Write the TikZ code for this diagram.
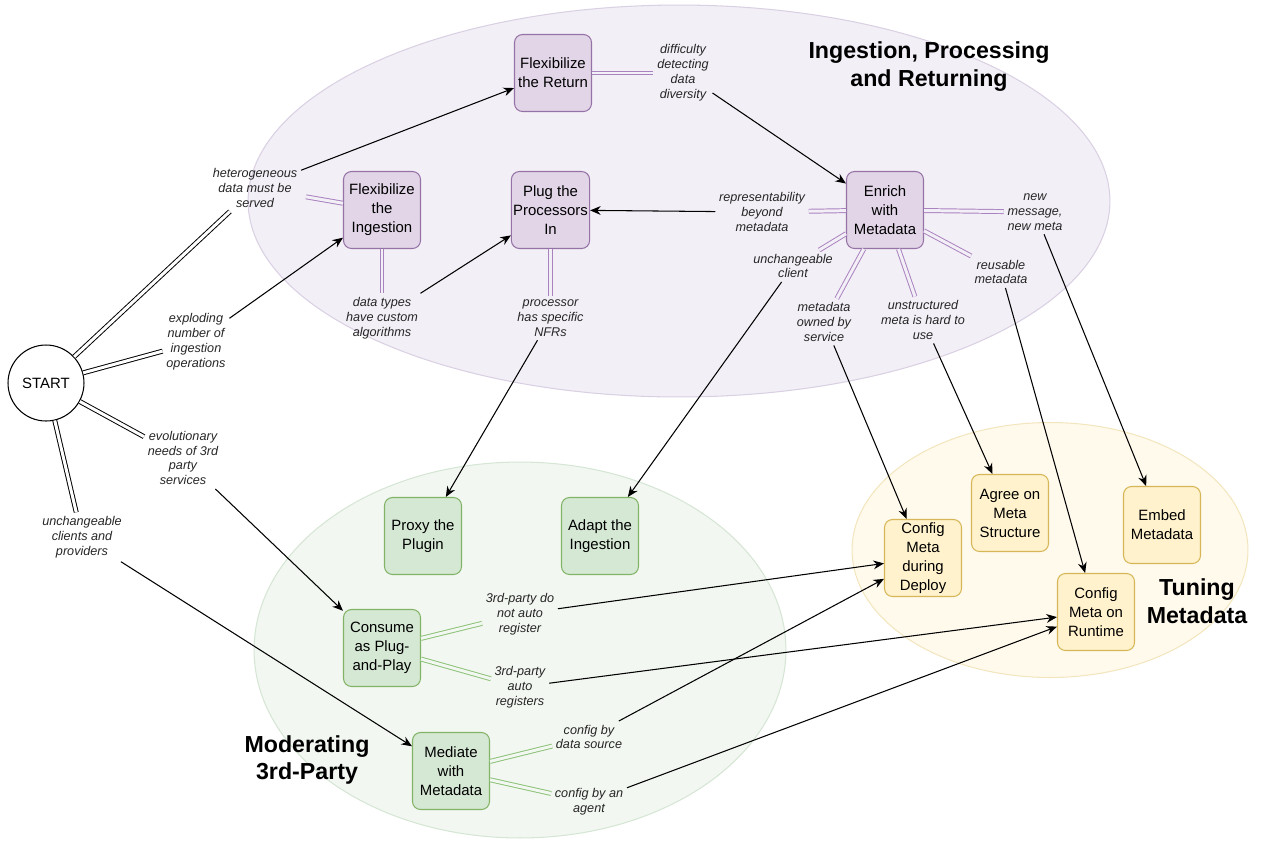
\documentclass[tikz,border=0pt]{standalone}
\usepackage{fontspec}
\setmainfont{Liberation Sans}
\usepackage{tikz}
\usetikzlibrary{arrows.meta}
\definecolor{purpfill}{HTML}{E1D5E7}
\definecolor{purpline}{HTML}{9673A6}
\definecolor{purpdbl}{HTML}{A983C0}
\definecolor{purpzone}{HTML}{F3EFF6}
\definecolor{purpzoneline}{HTML}{DAD0E3}
\definecolor{grnfill}{HTML}{D5E8D4}
\definecolor{grnline}{HTML}{82B366}
\definecolor{grndbl}{HTML}{8CC277}
\definecolor{grnzone}{HTML}{F2F7F1}
\definecolor{grnzoneline}{HTML}{D6E6D4}
\definecolor{ylwfill}{HTML}{FFF2CC}
\definecolor{ylwline}{HTML}{D6B656}
\definecolor{ylwzone}{HTML}{FFFAEC}
\definecolor{ylwzoneline}{HTML}{F3E6BF}
\tikzset{
  font={\fontsize{8.5pt}{10.8pt}\selectfont},
  box/.style={rounded corners=0.16cm, minimum width=1.54cm, minimum height=1.54cm,
    align=center, inner sep=1pt, line width=0.6pt},
  pbox/.style={box, draw=purpline, fill=purpfill},
  gbox/.style={box, draw=grnline, fill=grnfill},
  ybox/.style={box, draw=ylwline, fill=ylwfill},
  why/.style={align=center, inner sep=2pt, text=black!85,
    font={\fontsize{7.2pt}{8.5pt}\selectfont\itshape}},
  zonetitle/.style={align=center, font={\fontsize{13.2pt}{15.9pt}\selectfont\bfseries}},
  dbl/.style={line width=0.55pt, double distance=1.7pt},
  cause/.style={-{Stealth[length=6pt,width=5pt]}, line width=0.6pt}}

\begin{document}
\begin{tikzpicture}[x=0.02cm, y=-0.02cm]
\useasboundingbox (0,0) rectangle (1261,849);
\draw [purpzoneline, fill=purpzone, line width=0.6pt] (679,201) ellipse [x radius=8.62cm, y radius=3.92cm];
\draw [grnzoneline, fill=grnzone, line width=0.6pt] (520,650) ellipse [x radius=5.32cm, y radius=3.76cm];
\draw [ylwzoneline, fill=ylwzone, line width=0.6pt] (1050,550) ellipse [x radius=3.96cm, y radius=2.55cm];

\node [zonetitle] (ttlproc) at (929,67) {Ingestion, Processing\\and Returning};
\node [zonetitle] (ttlthird) at (307,760) {Moderating\\3rd-Party};
\node [zonetitle] (ttltune) at (1197,601) {Tuning\\Metadata};

\node [draw, circle, minimum size=1.52cm, line width=0.6pt, inner sep=0pt] (start) at (46,383) {START};

\node [pbox] (ret) at (553,73) {Flexibilize\\the Return};
\node [pbox] (ing) at (382,210) {Flexibilize\\the\\Ingestion};
\node [pbox] (plug) at (550.5,210) {Plug the\\Processors\\In};
\node [pbox] (enrich) at (885,210) {Enrich\\with\\Metadata};
\node [gbox] (proxy) at (423,536) {Proxy the\\Plugin};
\node [gbox] (adapt) at (600,536) {Adapt the\\Ingestion};
\node [gbox] (consume) at (382,648) {Consume\\as Plug-\\and-Play};
\node [gbox] (mediate) at (451,771) {Mediate\\with\\Metadata};
\node [ybox] (cdeploy) at (923,558) {Config\\Meta\\during\\Deploy};
\node [ybox] (agree) at (1010,513) {Agree on\\Meta\\Structure};
\node [ybox] (embed) at (1162,525) {Embed\\Metadata};
\node [ybox] (cruntime) at (1096,612) {Config\\Meta on\\Runtime};

\node [why] (hetero) at (255,188) {heterogeneous\\data must be\\served};
\node [why] (explode) at (196,342) {exploding\\number of\\ingestion\\operations};
\node [why] (evol) at (183,458) {evolutionary\\needs of 3rd\\party\\services};
\node [why] (uclients) at (82,537) {unchangeable\\clients and\\providers};
\node [why] (diff) at (683,73) {difficulty\\detecting\\data\\diversity};
\node [why] (dtypes) at (382,318) {data types\\have custom\\algorithms};
\node [why] (nfr) at (550.5,318) {processor\\has specific\\NFRs};
\node [why] (repr) at (762,212) {representability\\beyond\\metadata};
\node [why] (newmsg) at (1035,212) {new\\message,\\new meta};
\node [why] (uclient) at (793,266) {unchangeable\\client};
\node [why] (reuse) at (1001,272) {reusable\\metadata};
\node [why] (owned) at (824,322) {metadata\\owned by\\service};
\node [why] (unstr) at (923,320) {unstructured\\meta is hard to\\use};
\node [why] (notauto) at (520,614) {3rd-party do\\not auto\\register};
\node [why] (auto) at (520,687) {3rd-party\\auto\\registers};
\node [why] (dsource) at (589,737) {config by\\data source};
\node [why] (agent) at (589,802) {config by an\\agent};

\draw [dbl, draw=black, double=white] (start) -- (hetero);
\draw [dbl, draw=black, double=white] (start) -- (explode);
\draw [dbl, draw=black, double=white] (start) -- (evol);
\draw [dbl, draw=black, double=white] (start) -- (uclients);
\draw [dbl, draw=purpdbl, double=purpzone] (ret) -- (diff);
\draw [dbl, draw=purpdbl, double=purpzone, shorten >=0.1cm] (ing) -- (hetero);
\draw [dbl, draw=purpdbl, double=purpzone] (ing) -- (dtypes);
\draw [dbl, draw=purpdbl, double=purpzone] (plug) -- (nfr);
\draw [dbl, draw=purpdbl, double=purpzone] (enrich) -- (repr);
\draw [dbl, draw=purpdbl, double=purpzone] (enrich) -- (newmsg);
\draw [dbl, draw=purpdbl, double=purpzone] (enrich) -- (uclient);
\draw [dbl, draw=purpdbl, double=purpzone] (enrich) -- (owned);
\draw [dbl, draw=purpdbl, double=purpzone] (enrich) -- (unstr);
\draw [dbl, draw=purpdbl, double=purpzone] (enrich) -- (reuse);
\draw [dbl, draw=grndbl, double=grnzone] (consume) -- (notauto);
\draw [dbl, draw=grndbl, double=grnzone] (consume) -- (auto);
\draw [dbl, draw=grndbl, double=grnzone] (mediate) -- (dsource);
\draw [dbl, draw=grndbl, double=grnzone] (mediate) -- (agent);

\draw [cause] (hetero) -- (ret);
\draw [cause] (explode) -- (ing);
\draw [cause] (dtypes) -- (plug);
\draw [cause] (diff) -- (enrich);
\draw [cause] (repr) -- (plug);
\draw [cause] (nfr) -- (proxy);
\draw [cause] (uclient) -- (adapt);
\draw [cause] (owned) -- (cdeploy);
\draw [cause] (unstr) -- (agree);
\draw [cause] (reuse) -- (cruntime);
\draw [cause] (newmsg) -- (embed);
\draw [cause] (evol) -- (consume);
\draw [cause] (uclients) -- (mediate);
\draw [cause] (notauto) -- (cdeploy);
\draw [cause] (auto) -- (cruntime);
\draw [cause] (dsource) -- (cdeploy);
\draw [cause] (agent) -- (cruntime);
\end{tikzpicture}
\end{document}
